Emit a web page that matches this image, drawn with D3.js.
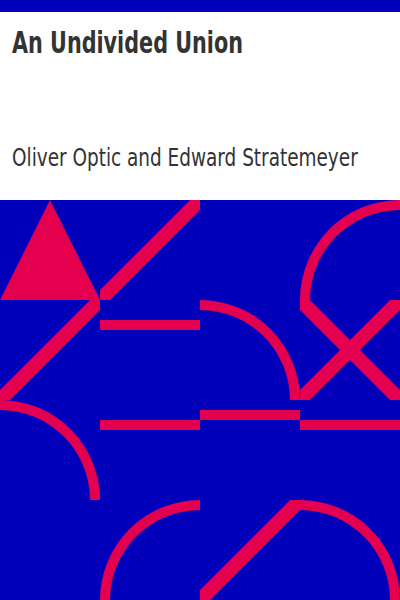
<!DOCTYPE html>
<html>
<head>
<meta charset="utf-8">
<script src="https://cdn.jsdelivr.net/npm/d3@7"></script>
<style>
  body { margin: 0; background: #fff; }
</style>
</head>
<body>
<div id="cover"></div>
<script>
const width = 400
const height = 600
const blue = "#0000bb"
const pink = "#e5004f"

const title = "An Undivided Union"
const author = "Oliver Optic and Edward Stratemeyer"

// tile pattern, row by row (4x4 grid under the title block)
const cols = [0, 1, 2, 3]
const rows = [0, 1, 2, 3]
const tiles = [
    ["triangle", "slash", "blank", "arcBR"],
    ["slash", "hline", "arcBL", "cross"],
    ["arcBL", "hline", "hline", "hline"],
    ["blank", "arcBR", "slash", "arcBL"]
]
// offset of horizontal bars inside their tile (in tile units of 100)
const hlineOffsets = { "1,1": 25, "1,2": 25, "2,2": 15, "3,2": 25 }

const svg = d3.select("#cover").append("svg")
    .attr("width", width)
    .attr("height", height)
    .attr("viewBox", `0 0 ${width} ${height}`)

const x = d3.scaleBand().domain(cols).range([0, width])
const y = d3.scaleBand().domain(rows).range([200, height])
const t = d3.scaleLinear().domain([0, 100]).range([0, x.bandwidth()])

// top strip + white title area + blue pattern field
svg.append("rect").attr("width", width).attr("height", height).attr("fill", "#fff")
svg.append("rect").attr("width", width).attr("height", 12).attr("fill", blue)
svg.append("rect").attr("y", y.range()[0]).attr("width", width).attr("height", height - y.range()[0]).attr("fill", blue)

// narrow lettering: squeeze each line to the measured width
function label(txt, x0, y0, size, weight, fitWidth) {
    const el = svg.append("text")
        .text(txt)
        .attr("x", 0).attr("y", 0)
        .style("font-family", "'DejaVu Sans Condensed', 'DejaVu Sans', sans-serif")
        .style("font-weight", weight)
        .style("font-size", size + "px")
        .attr("fill", "#333")
    const k = fitWidth / el.node().getComputedTextLength()
    el.attr("transform", `translate(${x0}, ${y0}) scale(${k}, 1)`)
}
label(title, 12, 53, 31, "bold", 231)
label(author, 12, 166, 25.5, "normal", 346)

const cells = []
rows.forEach(r => cols.forEach(c => cells.push({ c, r, type: tiles[r][c] })))

const defs = svg.append("defs")
defs.selectAll("clipPath").data(cells).join("clipPath")
    .attr("id", d => `tile-${d.c}-${d.r}`)
    .append("rect")
    .attr("width", x.bandwidth()).attr("height", y.bandwidth())

const g = svg.selectAll(".tile").data(cells).join("g")
    .attr("class", "tile")
    .attr("transform", d => `translate(${x(d.c)}, ${y(d.r)})`)
    .attr("clip-path", d => `url(#tile-${d.c}-${d.r})`)

const ring = d3.arc().innerRadius(t(90)).outerRadius(t(100))

g.each(function (d) {
    const el = d3.select(this)
    const s = t(100)
    if (d.type === "triangle") {
        el.append("path")
            .attr("d", d3.line()([[0, s], [t(50), 0], [s, s]]) + "Z")
            .attr("fill", pink)
    }
    if (d.type === "slash" || d.type === "cross") {
        el.append("line")
            .attr("x1", 0).attr("y1", s).attr("x2", s).attr("y2", 0)
            .attr("stroke", pink).attr("stroke-width", 14).attr("stroke-linecap", "square")
    }
    if (d.type === "cross") {
        el.append("line")
            .attr("x1", 0).attr("y1", 0).attr("x2", s).attr("y2", s)
            .attr("stroke", pink).attr("stroke-width", 14).attr("stroke-linecap", "square")
    }
    if (d.type === "hline") {
        const off = t(hlineOffsets[`${d.c},${d.r}`])
        el.append("line")
            .attr("x1", 0).attr("y1", off).attr("x2", s).attr("y2", off)
            .attr("stroke", pink).attr("stroke-width", 10)
    }
    if (d.type === "arcBL") {
        el.append("path")
            .attr("transform", `translate(0, ${s})`)
            .attr("d", ring({ startAngle: 0, endAngle: Math.PI / 2 }))
            .attr("fill", pink)
    }
    if (d.type === "arcBR") {
        el.append("path")
            .attr("transform", `translate(${s}, ${s})`)
            .attr("d", ring({ startAngle: -Math.PI / 2, endAngle: 0 }))
            .attr("fill", pink)
    }
})
</script>
</body>
</html>
